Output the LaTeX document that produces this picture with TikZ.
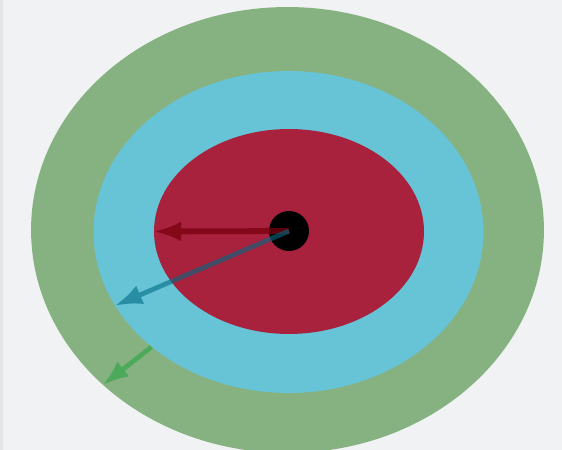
\documentclass[tikz,border=0pt]{standalone}
\usepackage{xcolor}
\usetikzlibrary{arrows.meta,shapes.geometric}
\definecolor{bgGray}{HTML}{F1F2F4}
\definecolor{edgeGray}{HTML}{E4E5E7}
\definecolor{ringGreen}{HTML}{86B282}
\definecolor{ringCyan}{HTML}{67C3D6}
\definecolor{ringRed}{HTML}{A8213D}
\definecolor{ptrRed}{HTML}{7A000F}
\definecolor{ptrCyan}{HTML}{006983}
\definecolor{ptrGreen}{HTML}{4CAA5A}

\begin{document}
\begin{tikzpicture}[
  x=0.02cm, y=0.02cm,
  ring/.style={ellipse, inner sep=0pt, draw=none},
  ptr/.style={-{Latex[length=0.55cm, width=0.4cm]}, line width=3.3pt},
]
\fill[bgGray] (0,0) rectangle (562,450);
\fill[edgeGray] (0,0) rectangle (3,450);
\useasboundingbox (0,0) rectangle (562,450);

\node[ring, fill=ringGreen, minimum width=10.26cm, minimum height=8.92cm] (outer) at (287.5,220) {};
\node[ring, fill=ringCyan, minimum width=7.8cm, minimum height=6.44cm] (middle) at (288.5,218) {};
\node[ring, fill=ringRed, minimum width=5.4cm, minimum height=4.1cm] (inner) at (289,218.5) {};
\node[circle, fill=black, inner sep=0pt, minimum size=0.8cm] (hub) at (289,219) {};

\begin{scope}[transparency group, opacity=0.75]
\draw[ptr, ptrRed] (hub.center) -- (inner.west);
\end{scope}
\begin{scope}[transparency group, opacity=0.6]
\draw[ptr, ptrCyan, line width=2.7pt] (hub.center) -- (middle.203);
\end{scope}
\draw[ptr, ptrGreen, line width=2.7pt, -{Latex[length=0.52cm, width=0.38cm]}] (middle.220) -- (outer.220);
\end{tikzpicture}
\end{document}
